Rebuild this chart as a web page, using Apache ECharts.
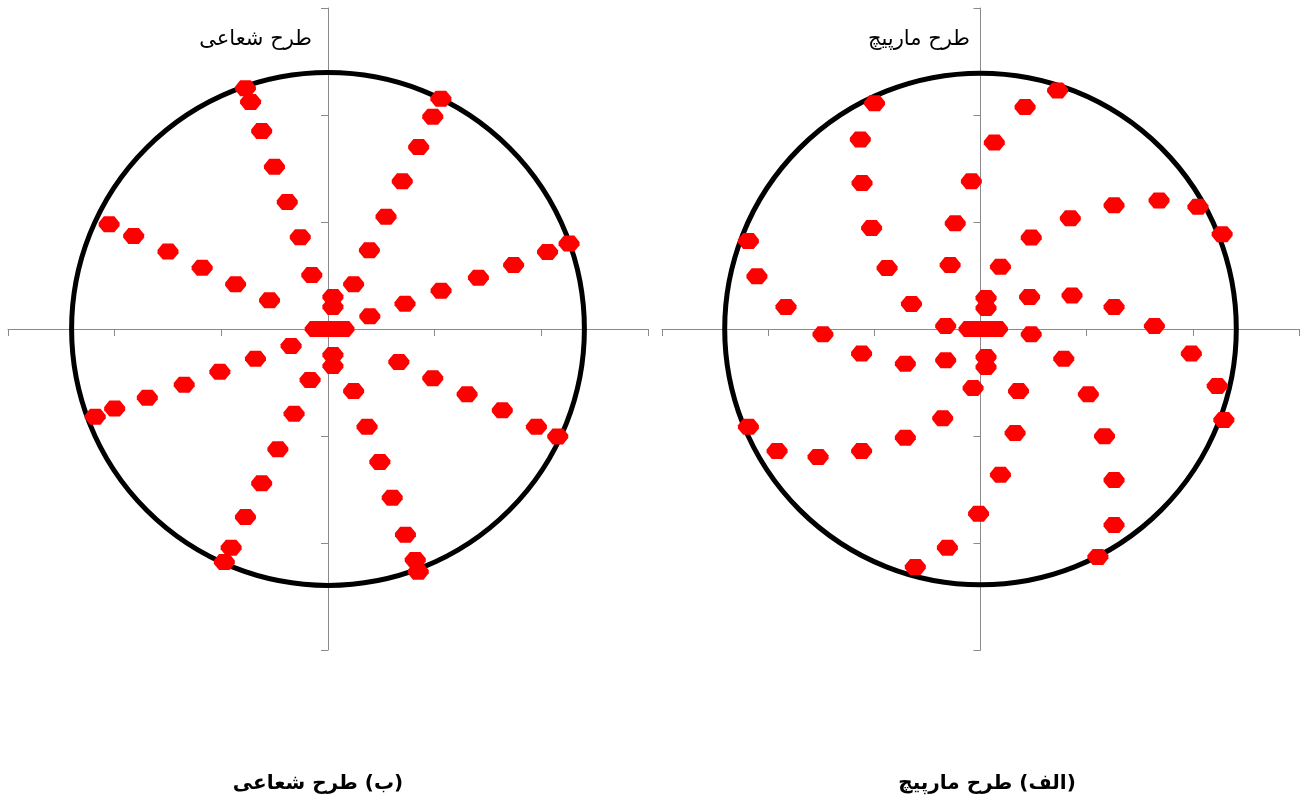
<!DOCTYPE html>
<html>
<head>
<meta charset="utf-8">
<script src="https://cdn.jsdelivr.net/npm/echarts@6/dist/echarts.min.js"></script>
<style>
  html, body { margin: 0; padding: 0; background: #fff; }
  #root { width: 1302px; height: 796px; }
</style>
</head>
<body>
<div id="root"></div>
<script>
// circle radius (same for both plots)
const circleRadius = 1.2

// left plot: radial pattern, [x, y] per spoke
const radialCenter = [[-0.06, 0], [-0.015, 0], [0.03, 0], [0.075, 0],
  [0.023, 0.15], [0.023, 0.103], [0.023, -0.121], [0.023, -0.173]]
const radialUpLeft = [[-0.387, 1.125], [-0.363, 1.061], [-0.311, 0.925], [-0.251, 0.758], [-0.191, 0.593], [-0.130, 0.429], [-0.076, 0.252]]
const radialUpRight = [[0.529, 1.076], [0.491, 0.992], [0.425, 0.850], [0.348, 0.690], [0.272, 0.525], [0.194, 0.368], [0.120, 0.209]]
const radialRightUp = [[1.130, 0.399], [1.029, 0.360], [0.870, 0.299], [0.705, 0.240], [0.530, 0.179], [0.361, 0.118], [0.196, 0.059]]
const radialLeftUp = [[-1.026, 0.489], [-0.911, 0.435], [-0.750, 0.362], [-0.590, 0.286], [-0.433, 0.209], [-0.274, 0.134]]
const radialLeftDown = [[-0.173, -0.079], [-0.340, -0.139], [-0.507, -0.200], [-0.674, -0.260], [-0.847, -0.321], [-1.000, -0.372], [-1.091, -0.410]]
const radialDownLeft = [[-0.084, -0.238], [-0.159, -0.396], [-0.235, -0.562], [-0.311, -0.721], [-0.387, -0.879], [-0.454, -1.022], [-0.486, -1.089]]
const radialDownRight = [[0.120, -0.290], [0.183, -0.457], [0.243, -0.621], [0.301, -0.788], [0.363, -0.961], [0.409, -1.079], [0.423, -1.134]]
const radialRightDown = [[0.332, -0.154], [0.491, -0.230], [0.652, -0.305], [0.817, -0.380], [0.977, -0.457], [1.077, -0.502]]

// right plot: spiral pattern, [x, y] per arm
const spiralCenter = [[-0.054, 0], [-0.01, 0], [0.035, 0], [0.08, 0],
  [0.026, 0.145], [0.026, 0.098], [0.026, -0.131], [0.026, -0.178]]
const spiralArm1 = [[-0.164, 0.014], [-0.325, 0.117], [-0.440, 0.285], [-0.513, 0.472], [-0.558, 0.682], [-0.566, 0.886], [-0.499, 1.055]]
const spiralArm2 = [[-0.143, 0.299], [-0.119, 0.494], [-0.043, 0.690], [0.065, 0.871], [0.210, 1.037], [0.363, 1.115]]
const spiralArm3 = [[0.094, 0.291], [0.239, 0.427], [0.423, 0.517], [0.629, 0.578], [0.841, 0.601], [1.024, 0.571], [1.138, 0.443]]
const spiralArm4 = [[0.231, 0.150], [0.431, 0.157], [0.629, 0.103], [0.819, 0.014], [0.993, -0.115], [1.115, -0.266], [1.146, -0.425]]
const spiralArm5 = [[0.239, -0.025], [0.392, -0.139], [0.508, -0.305], [0.584, -0.501], [0.629, -0.706], [0.629, -0.916], [0.553, -1.065]]
const spiralArm6 = [[0.179, -0.290], [0.163, -0.486], [0.094, -0.681], [-0.009, -0.863], [-0.156, -1.022], [-0.307, -1.112]]
const spiralArm7 = [[-0.035, -0.276], [-0.178, -0.417], [-0.354, -0.508], [-0.560, -0.570], [-0.765, -0.598], [-0.958, -0.570], [-1.093, -0.457]]
const spiralArm8 = [[-0.164, -0.146], [-0.354, -0.162], [-0.560, -0.115], [-0.742, -0.025], [-0.916, 0.103], [-1.053, 0.246], [-1.093, 0.411]]

const plotTitles = ['طرح شعاعی', 'طرح مارپیچ']
const captions = ['(ب) طرح شعاعی', '(الف) طرح مارپیچ']

const radialPoints = [].concat(radialCenter, radialUpLeft, radialUpRight, radialRightUp, radialLeftUp,
  radialLeftDown, radialDownLeft, radialDownRight, radialRightDown)
const spiralPoints = [].concat(spiralCenter, spiralArm1, spiralArm2, spiralArm3, spiralArm4,
  spiralArm5, spiralArm6, spiralArm7, spiralArm8)

const hexagon = 'path://M5,0 L15,0 L20,6 L20,9 L15,15 L5,15 L0,9 L0,6 Z'
const font = '"DejaVu Sans", sans-serif'

function axis(idx) {
  return {
    type: 'value', gridIndex: idx, min: -1.5, max: 1.5, interval: 0.5,
    axisLine: { show: true, onZero: true, lineStyle: { color: '#8a8a8a', width: 1 } },
    axisTick: { show: true, length: 7, lineStyle: { color: '#8a8a8a', width: 1 } },
    axisLabel: { show: false },
    splitLine: { show: false }
  }
}

function circle(idx) {
  return {
    type: 'custom', xAxisIndex: idx, yAxisIndex: idx, z: 2, silent: true,
    data: [[0, 0, circleRadius]],
    renderItem: function (params, api) {
      const c = api.coord([api.value(0), api.value(1)])
      const s = api.size([api.value(2), api.value(2)])
      return {
        type: 'circle',
        shape: { cx: c[0], cy: c[1], r: (s[0] + s[1]) / 2 },
        style: { fill: 'none', stroke: '#000', lineWidth: 5 }
      }
    }
  }
}

function dots(idx, pts) {
  return {
    type: 'scatter', xAxisIndex: idx, yAxisIndex: idx, z: 3,
    symbol: hexagon, symbolSize: [21, 16],
    itemStyle: { color: '#ff0000', opacity: 1 },
    data: pts
  }
}

const chart = echarts.init(document.getElementById('root'))
chart.setOption({
  animation: false,
  grid: [
    { left: 8, top: 8, width: 640, height: 642 },
    { left: 662, top: 8, width: 637, height: 642 }
  ],
  xAxis: [axis(0), axis(1)],
  yAxis: [axis(0), axis(1)],
  graphic: [
    { type: 'text', x: 312, y: 29, style: { text: plotTitles[0], align: 'right', verticalAlign: 'top', font: '21px ' + font, fill: '#000' } },
    { type: 'text', x: 970, y: 29, style: { text: plotTitles[1], align: 'right', verticalAlign: 'top', font: '21px ' + font, fill: '#000' } },
    { type: 'text', x: 318, y: 774, style: { text: '\u200F' + captions[0] + '\u200F', align: 'center', verticalAlign: 'top', font: 'bold 20px ' + font, fill: '#000' } },
    { type: 'text', x: 987, y: 774, style: { text: '\u200F' + captions[1] + '\u200F', align: 'center', verticalAlign: 'top', font: 'bold 20px ' + font, fill: '#000' } }
  ],
  series: [circle(0), circle(1), dots(0, radialPoints), dots(1, spiralPoints)]
})
</script>
</body>
</html>
